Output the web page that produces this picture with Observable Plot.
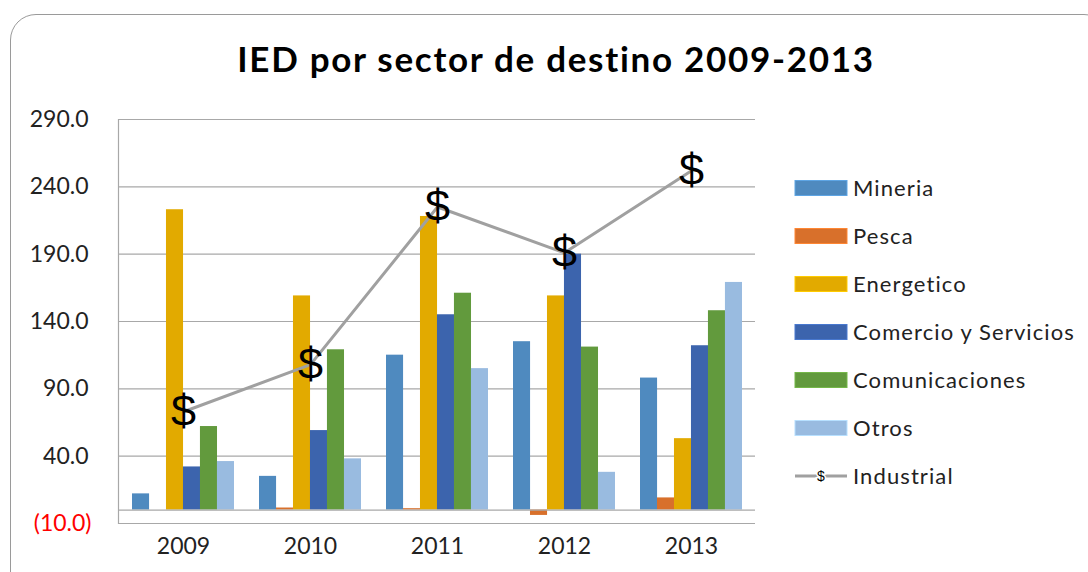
<!DOCTYPE html>
<html>
<head>
<meta charset="utf-8">
<script src="https://cdn.jsdelivr.net/npm/d3@7"></script>
<script src="https://cdn.jsdelivr.net/npm/@observablehq/plot@0.6"></script>
<style>
  body { margin: 0; background: #fff; }
  #wrap { position: relative; width: 1088px; height: 572px; overflow: hidden; background: #fff; }
  #border { position: absolute; left: 10px; top: 14px; width: 1100px; height: 620px; border: 1.5px solid #9a9a9a; border-radius: 26px; pointer-events: none; box-sizing: border-box; }
  #chart { position: absolute; left: 0; top: 0; }
</style>
</head>
<body>
<div id="wrap"><div id="chart"></div><div id="border"></div></div>
<script>
const years = ["2009", "2010", "2011", "2012", "2013"];
const seriesNames = ["Mineria", "Pesca", "Energetico", "Comercio y Servicios", "Comunicaciones", "Otros"];
const mineria = [12, 25, 115, 125, 98];
const pesca = [0, 1.5, 1, -4, 9];
const energetico = [223, 159, 218, 159, 53];
const comercio = [32, 59, 145, 190, 122];
const comunicaciones = [62, 119, 161, 121, 148];
const otros = [36, 38, 105, 28, 169];
const industrial = [73, 108, 225, 191, 252];
const yTicks = [-10, 40, 90, 140, 190, 240, 290];
const colors = ["#4f8abf", "#d8702b", "#e2aa00", "#3c64ad", "#629a3d", "#99bbe0"];

const seriesValues = [mineria, pesca, energetico, comercio, comunicaciones, otros];
const table = seriesValues.map((vals, i) => years.map((yr, j) => ({year: yr, value: vals[j], series: seriesNames[i]})));
const lineData = years.map((yr, j) => ({year: yr, value: industrial[j]}));

const W = 1088, H = 572;
const mL = 118, mR = 333, mT = 119, mB = 49;
const step = (W - mL - mR) / 5;
const slot = step * 0.8 / 6;

const fmt = d => d < 0 ? `(${Math.abs(d).toFixed(1)})` : d.toFixed(1);
const font = "Lato, 'Open Sans', sans-serif";

const plot = Plot.plot({
  width: W, height: H,
  marginLeft: mL, marginRight: mR, marginTop: mT, marginBottom: mB,
  style: {fontFamily: font, background: "transparent", color: "#222"},
  x: {domain: years, paddingInner: 0.2, paddingOuter: 0.1, label: null},
  y: {domain: [-10, 290], label: null},
  marks: [
    Plot.ruleY(yTicks, {stroke: "#a8a8a8", strokeWidth: 1.2}),
    ...table.map((rows, i) => Plot.barY(rows, {
      x: "year", y1: 0, y2: "value", fill: colors[i],
      insetLeft: i * slot, insetRight: (5 - i) * slot
    })),
    Plot.ruleY([0], {stroke: "#a8a8a8", strokeWidth: 1.2}),
    Plot.frame({anchor: "left", stroke: "#a8a8a8", strokeWidth: 1.2}),
    Plot.line(lineData, {x: "year", y: "value", stroke: "#a0a0a0", strokeWidth: 3}),
    Plot.text(lineData, {x: "year", y: "value", text: () => "$", fontSize: 45, fill: "#000", fontFamily: "'Liberation Sans', Arial, sans-serif"}),
    Plot.axisY(yTicks.filter(d => d >= 0), {tickSize: 0, tickPadding: 30, tickFormat: fmt, fontSize: 23, color: "#222", label: null}),
    Plot.axisY([-10], {tickSize: 0, tickPadding: 27, tickFormat: fmt, fontSize: 23, color: "#ff0000", label: null}),
    Plot.axisX({tickSize: 0, tickPadding: 14, fontSize: 23, color: "#222", label: null})
  ]
});

document.getElementById("chart").appendChild(plot);

const svg = d3.select(plot);
svg.append("text")
  .attr("x", 556).attr("y", 72)
  .attr("text-anchor", "middle")
  .attr("font-family", font)
  .attr("font-weight", 700)
  .attr("font-size", 35)
  .attr("letter-spacing", "1.7px")
  .attr("fill", "#000")
  .text("IED por sector de destino 2009-2013");

const leg = svg.append("g").attr("text-anchor", "start");
const legY0 = 188, legStep = 48;
seriesNames.forEach((name, i) => {
  const cy = legY0 + i * legStep;
  leg.append("rect").attr("x", 795).attr("y", cy - 7.5).attr("width", 52).attr("height", 15)
    .attr("fill", colors[i]).attr("stroke", d3.color(colors[i]).brighter(0.5)).attr("stroke-width", 1);
  leg.append("text").attr("x", 853).attr("y", cy + 7.5).attr("text-anchor", "start")
    .attr("font-family", font).attr("font-size", 22).attr("letter-spacing", "1.1px").attr("fill", "#222").text(name);
});
{
  const cy = legY0 + 6 * legStep;
  leg.append("line").attr("x1", 795).attr("x2", 847).attr("y1", cy).attr("y2", cy)
    .attr("stroke", "#a0a0a0").attr("stroke-width", 3);
  leg.append("text").attr("x", 821).attr("y", cy + 5).attr("text-anchor", "middle")
    .attr("font-family", "'Liberation Sans', Arial, sans-serif").attr("font-size", 14)
    .attr("fill", "#000").attr("stroke", "#fff").attr("stroke-width", 3).attr("paint-order", "stroke").text("$");
  leg.append("text").attr("x", 853).attr("y", cy + 7.5).attr("text-anchor", "start")
    .attr("font-family", font).attr("font-size", 22).attr("letter-spacing", "1.1px").attr("fill", "#222").text("Industrial");
}
</script>
</body>
</html>
